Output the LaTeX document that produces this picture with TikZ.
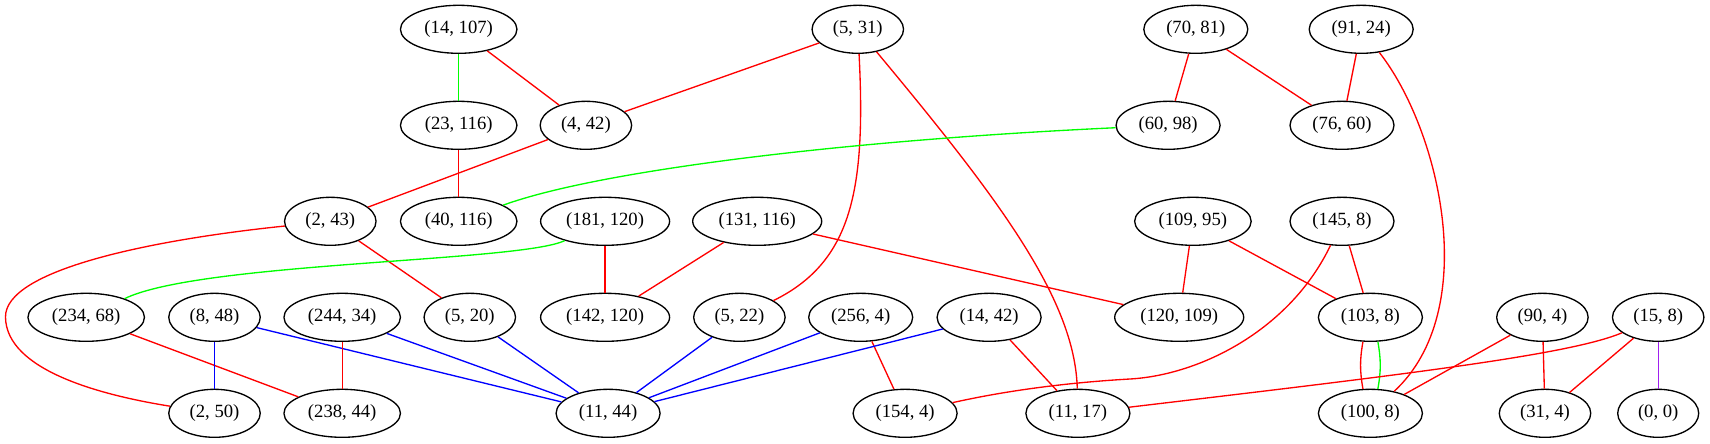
\documentclass[tikz,border=0pt]{standalone}
\usepackage{fontspec}
\setmainfont{Liberation Serif}
\usetikzlibrary{shapes.geometric}
\definecolor{gvred}{HTML}{FF0000}
\definecolor{gvgreen}{HTML}{00FF00}
\definecolor{gvblue}{HTML}{0000FF}
\definecolor{gvpurple}{HTML}{A020F0}
\tikzset{
  gnode/.style={ellipse, draw=black, line width=1pt, inner sep=0pt, minimum height=36pt, font=\fontsize{14}{16}\selectfont},
  wsix/.style={gnode, minimum width=60.75pt},
  wseven/.style={gnode, minimum width=68.6pt},
  weight/.style={gnode, minimum width=78pt},
  wnine/.style={gnode, minimum width=87.4pt},
  wten/.style={gnode, minimum width=96.75pt},
  ered/.style={draw=gvred, line width=1pt},
  egreen/.style={draw=gvgreen, line width=1pt},
  eblue/.style={draw=gvblue, line width=1pt},
  epurple/.style={draw=gvpurple, line width=1pt}
}
\begin{document}
\begin{tikzpicture}[x=0.75pt, y=-0.75pt]
\useasboundingbox (0,0) rectangle (1710,443);
% row 1
\node[wnine]  (n14x107) at (458.7,29.3) {(14, 107)};
\node[wseven] (n5x31)   at (857.8,29.3) {(5, 31)};
\node[weight] (n70x81)  at (1195.8,29.3) {(70, 81)};
\node[weight] (n91x24)  at (1361.2,29.3) {(91, 24)};
% row 2
\node[wnine]  (n23x116) at (458.7,125.3) {(23, 116)};
\node[wseven] (n4x42)   at (585.9,125.3) {(4, 42)};
\node[weight] (n60x98)  at (1168.1,125.3) {(60, 98)};
\node[weight] (n76x60)  at (1342,125.3) {(76, 60)};
% row 3
\node[wseven] (n2x43)    at (330.3,221.3) {(2, 43)};
\node[wnine]  (n40x116)  at (458.7,221.3) {(40, 116)};
\node[wten]   (n181x120) at (605.1,221.3) {(181, 120)};
\node[wten]   (n131x116) at (757.2,221.3) {(131, 116)};
\node[wnine]  (n109x95)  at (1192.9,221.3) {(109, 95)};
\node[weight] (n145x8)   at (1342,221.3) {(145, 8)};
% row 4
\node[wnine]  (n234x68)  at (86.2,317.3) {(234, 68)};
\node[wseven] (n8x48)    at (214.5,317.3) {(8, 48)};
\node[wnine]  (n244x34)  at (342.2,317.3) {(244, 34)};
\node[wseven] (n5x20)    at (469.8,317.3) {(5, 20)};
\node[wten]   (n142x120) at (605.1,317.3) {(142, 120)};
\node[wseven] (n5x22)    at (739.4,317.3) {(5, 22)};
\node[weight] (n256x4)   at (860.7,317.3) {(256, 4)};
\node[weight] (n14x42)   at (989.1,317.3) {(14, 42)};
\node[wten]   (n120x109) at (1179.2,317.3) {(120, 109)};
\node[weight] (n103x8)   at (1370.4,317.3) {(103, 8)};
\node[wseven] (n90x4)    at (1542.4,317.3) {(90, 4)};
\node[wseven] (n15x8)    at (1658.2,317.3) {(15, 8)};
% row 5
\node[wseven] (n2x50)   at (214.5,413.3) {(2, 50)};
\node[wnine]  (n238x44) at (342.2,413.3) {(238, 44)};
\node[weight] (n11x44)  at (608.1,413.3) {(11, 44)};
\node[weight] (n154x4)  at (905.1,413.3) {(154, 4)};
\node[weight] (n11x17)  at (1077.9,413.3) {(11, 17)};
\node[weight] (n100x8)  at (1370.4,413.3) {(100, 8)};
\node[wseven] (n31x4)   at (1545,413.3) {(31, 4)};
\node[wsix]   (n0x0)    at (1658.2,413.3) {(0, 0)};
% edges
\draw[egreen] (n14x107) -- (n23x116);
\draw[ered] (n14x107) -- (n4x42);
\draw[ered] (n5x31) -- (n4x42);
\draw[ered] (n5x31) .. controls (866,190) and (852,262) .. (n5x22);
\draw[ered] (n5x31) .. controls (1000,200) and (1075,300) .. (n11x17);
\draw[ered] (n70x81) -- (n60x98);
\draw[ered] (n70x81) -- (n76x60);
\draw[ered] (n91x24) -- (n76x60);
\draw[ered] (n91x24) .. controls (1440,130) and (1482,310) .. (n100x8);
\draw[egreen] (n60x98) .. controls (850,140) and (600,170) .. (n40x116);
\draw[ered] (n23x116) -- (n40x116);
\draw[ered] (n4x42) -- (n2x43);
\draw[ered] (n2x43) .. controls (150,240) and (5,270) .. (5.5,317) .. controls (6,370) and (100,395) .. (n2x50);
\draw[ered] (n2x43) -- (n5x20);
\draw[egreen] (n181x120) .. controls (520,262) and (200,262) .. (n234x68);
\draw[ered] (n181x120) -- (n142x120);
\draw[ered] (n131x116) -- (n142x120);
\draw[ered] (n131x116) -- (n120x109);
\draw[ered] (n109x95) -- (n120x109);
\draw[ered] (n109x95) -- (n103x8);
\draw[ered] (n145x8) -- (n103x8);
\draw[ered] (n145x8) .. controls (1290,330) and (1200,375) .. (1130,379) .. controls (1060,383) and (1000,392) .. (n154x4);
\draw[ered] (n234x68) -- (n238x44);
\draw[eblue] (n8x48) -- (n2x50);
\draw[eblue] (n8x48) -- (n11x44);
\draw[ered] (n244x34) -- (n238x44);
\draw[eblue] (n244x34) -- (n11x44);
\draw[eblue] (n5x20) -- (n11x44);
\draw[eblue] (n5x22) -- (n11x44);
\draw[eblue] (n256x4) -- (n11x44);
\draw[ered] (n256x4) -- (n154x4);
\draw[eblue] (n14x42) -- (n11x44);
\draw[ered] (n14x42) -- (n11x17);
\draw[ered] (n103x8.-107) to[bend right=10] (n100x8.107);
\draw[egreen] (n103x8.-73) to[bend left=10] (n100x8.73);
\draw[ered] (n90x4) -- (n100x8);
\draw[ered] (n90x4) -- (n31x4);
\draw[ered] (n15x8) .. controls (1570,355) and (1400,375) .. (n11x17);
\draw[ered] (n15x8) -- (n31x4);
\draw[epurple] (n15x8) -- (n0x0);
\end{tikzpicture}
\end{document}
